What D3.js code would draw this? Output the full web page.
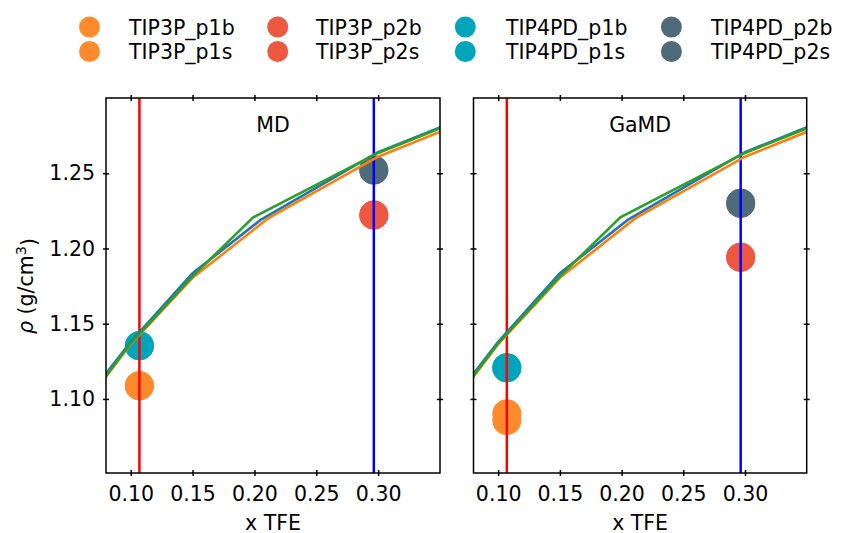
<!DOCTYPE html>
<html>
<head>
<meta charset="utf-8">
<script src="https://cdn.jsdelivr.net/npm/d3@7"></script>
<style>
  body { margin: 0; background: #fff; }
  svg text { font-family: "DejaVu Sans", sans-serif; fill: #000; }
</style>
</head>
<body>
<svg id="chart" width="846" height="533"></svg>
<script>
// series shown as big dots
var seriesNames = ["TIP3P_p1b", "TIP3P_p1s", "TIP3P_p2b", "TIP3P_p2s",
                   "TIP4PD_p1b", "TIP4PD_p1s", "TIP4PD_p2b", "TIP4PD_p2s"];
var seriesColors = ["#ff8a2b", "#ff8a2b", "#ee5840", "#ee5840",
                    "#00a5bc", "#00a5bc", "#4f6a79", "#4f6a79"];
var seriesX = [0.107, 0.107, 0.2965, 0.2965, 0.107, 0.107, 0.2965, 0.2965];
var mdValues   = [1.1088, 1.1088, 1.2223, 1.2223, 1.1354, 1.1354, 1.2522, 1.2522];
var gamdValues = [1.0902, 1.0857, 1.1941, 1.1941, 1.1208, 1.1208, 1.2300, 1.2300];

// reference density curves
var blueX = [0.05, 0.10, 0.15, 0.205, 0.30, 0.40];
var blueY = [1.085, 1.138, 1.1835, 1.219, 1.264, 1.297];
var orangeX = [0.05, 0.10, 0.15, 0.211, 0.30, 0.40];
var orangeY = [1.082, 1.1365, 1.1805, 1.220, 1.261, 1.294];
var greenX = [0.05, 0.10, 0.15, 0.199, 0.30, 0.40];
var greenY = [1.083, 1.137, 1.1815, 1.2207, 1.2635, 1.296];

var vlineX = [0.107, 0.2965];
var vlineColors = ["#ff0000", "#0000ff"];

var xTicks = [0.10, 0.15, 0.20, 0.25, 0.30];
var yTicks = [1.10, 1.15, 1.20, 1.25];
var panelTitles = ["MD", "GaMD"];

var svg = d3.select("#chart");
var fmt = d3.format(".2f");

var plotTop = 98, plotBottom = 473;
var panels = [
  {title: panelTitles[0], left: 106, right: 440, values: mdValues, labels: true},
  {title: panelTitles[1], left: 473.5, right: 806.7, values: gamdValues, labels: false}
];

var y = d3.scaleLinear().domain([1.0508, 1.3]).range([plotBottom, plotTop]);

var curves = [
  {xs: blueX, ys: blueY, color: "#1f77b4"},
  {xs: orangeX, ys: orangeY, color: "#ff7f0e"},
  {xs: greenX, ys: greenY, color: "#2ca02c"}
];

panels.forEach(function(p, pi) {
  var x = d3.scaleLinear().domain([0.08, 0.35]).range([p.left, p.right]);

  var clipId = "clip" + pi;
  svg.append("clipPath").attr("id", clipId)
    .append("rect")
    .attr("x", p.left).attr("y", plotTop)
    .attr("width", p.right - p.left).attr("height", plotBottom - plotTop);

  var g = svg.append("g").attr("clip-path", "url(#" + clipId + ")");

  // dots
  g.selectAll("circle")
    .data(seriesNames)
    .enter().append("circle")
    .attr("cx", function(d, i) { return x(seriesX[i]); })
    .attr("cy", function(d, i) { return y(p.values[i]); })
    .attr("r", 14.5)
    .style("fill", function(d, i) { return seriesColors[i]; });

  // vertical markers
  g.selectAll("line.vl")
    .data(vlineX)
    .enter().append("line")
    .attr("class", "vl")
    .attr("x1", function(d) { return x(d); })
    .attr("x2", function(d) { return x(d); })
    .attr("y1", plotTop).attr("y2", plotBottom)
    .style("stroke", function(d, i) { return vlineColors[i]; })
    .style("stroke-width", 2.5);

  var line = d3.line()
    .x(function(d) { return x(d[0]); })
    .y(function(d) { return y(d[1]); });

  curves.forEach(function(c) {
    g.append("path")
      .datum(d3.zip(c.xs, c.ys))
      .attr("d", line)
      .style("fill", "none")
      .style("stroke", c.color)
      .style("stroke-width", 2.6);
  });

  // frame
  svg.append("rect")
    .attr("x", p.left).attr("y", plotTop)
    .attr("width", p.right - p.left).attr("height", plotBottom - plotTop)
    .style("fill", "none").style("stroke", "#000").style("stroke-width", 1.5);

  // ticks (in-out on all four sides)
  var axB = svg.append("g")
    .attr("transform", "translate(0," + (plotBottom - 3) + ")")
    .call(d3.axisBottom(x).tickValues(xTicks).tickSize(6).tickPadding(10.7).tickFormat(fmt));
  var axT = svg.append("g")
    .attr("transform", "translate(0," + (plotTop + 3) + ")")
    .call(d3.axisTop(x).tickValues(xTicks).tickSize(6).tickFormat(""));
  var axL = svg.append("g")
    .attr("transform", "translate(" + (p.left + 3) + ",0)")
    .call(d3.axisLeft(y).tickValues(yTicks).tickSize(6).tickPadding(8)
      .tickFormat(p.labels ? fmt : ""));
  var axR = svg.append("g")
    .attr("transform", "translate(" + (p.right - 3) + ",0)")
    .call(d3.axisRight(y).tickValues(yTicks).tickSize(6).tickFormat(""));

  [axB, axT, axL, axR].forEach(function(a) {
    a.select(".domain").remove();
    a.selectAll("line").style("stroke", "#000").style("stroke-width", 1.5);
    a.selectAll("text").style("font-family", "DejaVu Sans").style("font-size", "20.5px").style("fill", "#000");
  });

  // panel title
  svg.append("text")
    .attr("x", (p.left + p.right) / 2)
    .attr("y", 132)
    .attr("text-anchor", "middle")
    .style("font-size", "20.5px")
    .text(p.title);

  // x label
  svg.append("text")
    .attr("x", (p.left + p.right) / 2)
    .attr("y", 529.5)
    .attr("text-anchor", "middle")
    .style("font-size", "20.5px")
    .text("x TFE");
});

// y label
var yl = svg.append("text")
  .attr("transform", "translate(33,286) rotate(-90)")
  .attr("text-anchor", "middle")
  .style("font-size", "20.5px");
yl.append("tspan").style("font-style", "italic").text("ρ");
yl.append("tspan").text(" (g/cm");
yl.append("tspan").attr("dy", "-0.45em").style("font-size", "14.5px").text("3");
yl.append("tspan").attr("dy", "0.45em").text(")");

// legend, two rows per column
var legX = [89.5, 277.7, 465.3, 671.4];
var legTextX = [129, 316, 506, 711];
var legY = [27, 51.5];

var leg = svg.append("g").attr("class", "legend");
seriesNames.forEach(function(name, i) {
  var col = Math.floor(i / 2), row = i % 2;
  leg.append("circle")
    .attr("cx", legX[col]).attr("cy", legY[row])
    .attr("r", 10.5)
    .style("fill", seriesColors[i]);
  leg.append("text")
    .attr("x", legTextX[col])
    .attr("y", legY[row] + 7.5)
    .style("font-size", "20.5px")
    .text(name);
});
</script>
</body>
</html>
